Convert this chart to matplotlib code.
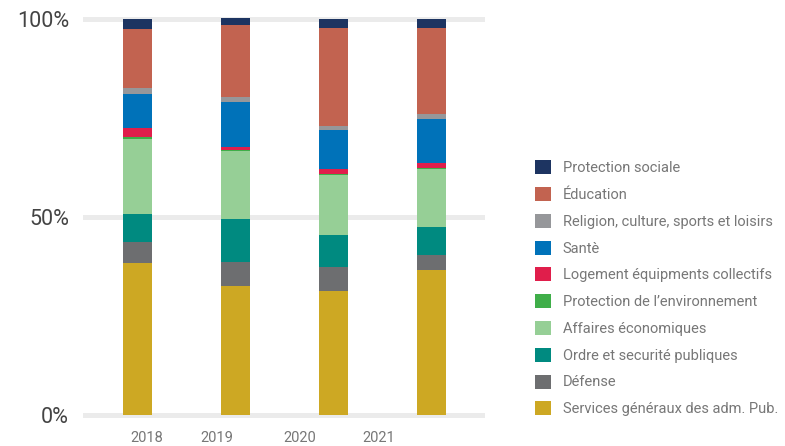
import matplotlib
matplotlib.use("Agg")
import matplotlib.pyplot as plt
import numpy as np

# ---- data (share of spending, %) ----
years = ["2018", "2019", "2020", "2021"]
categories = [
    "Services généraux des adm. Pub.",
    "Défense",
    "Ordre et securité publiques",
    "Affaires économiques",
    "Protection de l’environnement",
    "Logement équipments collectifs",
    "Santè",
    "Religion, culture, sports et loisirs",
    "Éducation",
    "Protection sociale",
]
services = [38.5, 32.7, 31.4, 36.7]
defense = [5.1, 5.9, 5.9, 3.8]
ordre = [7.1, 11.0, 8.2, 7.1]
affaires = [19.0, 17.1, 15.1, 14.5]
environnement = [0.5, 0.3, 0.3, 0.2]
logement = [2.2, 0.8, 1.2, 1.3]
sante = [8.7, 11.2, 9.9, 11.2]
religion = [1.5, 1.3, 1.0, 1.3]
education = [14.8, 18.1, 24.7, 21.7]
protection = [2.6, 1.8, 2.3, 2.3]

series = [services, defense, ordre, affaires, environnement,
          logement, sante, religion, education, protection]
colors = ["#cda823", "#6d6e70", "#008a80", "#96cf96", "#3fae49",
          "#e01e4b", "#0072b9", "#96979a", "#c26350", "#1d3461"]

FONT = ["Roboto", "DejaVu Sans"]

fig = plt.figure(figsize=(7.85, 4.46), dpi=100)
ax = fig.add_axes([83 / 785, 0.0606, 402 / 785, 0.9057])

x = np.arange(len(years))
bottom = np.zeros(len(years))
handles = []
for vals, col, name in zip(series, colors, categories):
    b = ax.bar(x, vals, bottom=bottom, width=0.296, color=col,
               label=name, zorder=3, linewidth=0)
    handles.append(b)
    bottom += np.array(vals)

ax.set_xlim(-0.556, 3.546)
ax.set_ylim(-1, 101)
ax.set_yticks([0, 50, 100])
ax.set_yticklabels(["0%", "50%", "100%"])
ax.grid(axis="y", color="#ebebeb", linewidth=3.6, zorder=0)
ax.tick_params(axis="y", length=0, pad=10, labelsize=15.5, labelcolor="#444444")
for lab in ax.get_yticklabels():
    lab.set_family(FONT)

# year labels sit slightly off the bars in the original
ax.set_xticks([0.094, 0.811, 1.651, 2.466])
ax.set_xticklabels(years, family=FONT, fontsize=10.5, color="#777777")
ax.tick_params(axis="x", length=0, pad=9)

for s in ax.spines.values():
    s.set_visible(False)

leg = fig.legend(handles[::-1], categories[::-1], loc="center left",
                 bbox_to_anchor=(535 / 785, 0.3536), frameon=False,
                 prop={"family": FONT, "size": 10.5},
                 handlelength=1.1, handleheight=1.1, handletextpad=0.8,
                 labelspacing=0.81, borderpad=0, borderaxespad=0)
for t in leg.get_texts():
    t.set_color("#777777")

fig.savefig("out.png", dpi=100)
